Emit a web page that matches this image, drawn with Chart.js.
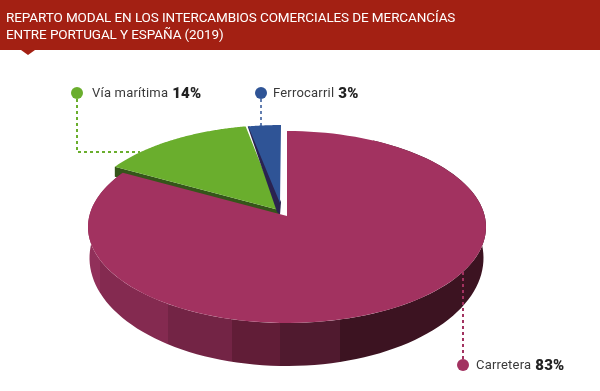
<!DOCTYPE html>
<html><head><meta charset="utf-8">
<style>html,body{margin:0;padding:0;background:#fff}canvas{display:block}</style>
<script src="https://cdn.jsdelivr.net/npm/chart.js@4"></script></head>
<body><canvas id="c" width="600" height="391"></canvas>
<script>
const titleLines = ['REPARTO MODAL EN LOS INTERCAMBIOS COMERCIALES DE MERCANCÍAS', 'ENTRE PORTUGAL Y ESPAÑA (2019)'];
const categories = ['Carretera', 'Vía marítima', 'Ferrocarril'];
const shares = [83, 14, 3];
const colors = ['#a23260', '#6aae2d', '#2f5496'];
const chordColors = ['#4a1a2e', '#35551a', '#2a2350'];

const PERSP = 0.1146;
const top3d = {cx: 287, cy: 216, a: 197.7, b: 94.7};
const bot3d = {cx: 286.5, cy: 245.6, a: 195.7, b: 106.6};
const shift = [[0, 0], [-8, -6], [-6, -6]];
const wallBands = [[80, 100, '#91305a'], [100, 168, '#842a50'], [168, 232, '#732445'], [232, 280, '#611d37'], [280, 340, '#501a2f'], [340, 500, '#3c1321']];
const labelPos = [
  {dot: [463, 365], tx: 476, line: [[463, 272], [463, 365]]},
  {dot: [77, 93], tx: 92, line: [[77, 93], [77, 152], [140, 152]]},
  {dot: [261, 93], tx: 273, line: [[261, 93], [261, 126]]}
];

function proj(t, ang, sh) {
  const th = ang + Math.PI / 2, u = Math.sin(th), v = -Math.cos(th), w = 1 - PERSP * v;
  return [t.cx + t.a * u / w + sh[0], t.cy + t.b * v / w + sh[1]];
}
function arcPts(t, s, e, sh) {
  const pts = [], n = 120;
  for (let i = 0; i <= n; i++) pts.push(proj(t, s + (e - s) * i / n, sh));
  return pts;
}
function poly(ctx, pts, fill) {
  ctx.beginPath();
  pts.forEach((p, i) => i ? ctx.lineTo(p[0], p[1]) : ctx.moveTo(p[0], p[1]));
  ctx.closePath(); ctx.fillStyle = fill; ctx.fill();
}

const pie3d = {
  id: 'pie3d',
  beforeDatasetsDraw(chart) {
    const ctx = chart.ctx, arcs = chart.getDatasetMeta(0).data;
    ctx.save();
    // banner
    ctx.fillStyle = '#a32013';
    ctx.fillRect(0, 0, 600, 50);
    ctx.beginPath(); ctx.moveTo(21, 50); ctx.lineTo(35, 50); ctx.lineTo(28, 55); ctx.closePath(); ctx.fill();
    ctx.fillStyle = '#fff'; ctx.font = '400 13.5px Roboto'; ctx.textBaseline = 'alphabetic';
    ctx.letterSpacing = '-0.1px';
    titleLines.forEach((l, i) => ctx.fillText(l, 6, 22 + i * 17));
    ctx.letterSpacing = '0px';
    // leader lines behind the pie
    [1, 2].forEach(i => leader(ctx, i));
    // green and blue slices
    [1, 2].forEach(i => {
      const a = arcs[i], sh = shift[i];
      const apex = [top3d.cx + sh[0], top3d.cy + sh[1]];
      const p0 = proj(top3d, a.startAngle, sh);
      if (i === 1) {
        poly(ctx, [p0, apex, [apex[0], apex[1] + 10], [p0[0], p0[1] + 10]], chordColors[i]);
        poly(ctx, [apex, p0].concat(arcPts(top3d, a.startAngle, a.endAngle, sh).slice(1)), colors[i]);
      } else {
        poly(ctx, [p0, [apex[0] - 4, apex[1] + 2], [apex[0] - 1, apex[1] + 5], [apex[0], apex[1] - 8], [p0[0] + 2, p0[1]]], chordColors[i]);
        poly(ctx, [[apex[0] - 1, apex[1] - 7], [p0[0] + 1, p0[1] + 1]].concat(arcPts(top3d, a.startAngle, a.endAngle, sh).slice(1)), colors[i]);
      }
    });
    // maroon wall
    const big = arcs[0];
    const wallStart = big.startAngle + 0.5;
    const t = arcPts(top3d, big.startAngle, big.endAngle, shift[0]);
    const tw = arcPts(top3d, wallStart, big.endAngle, shift[0]);
    const b = arcPts(bot3d, wallStart, big.endAngle, shift[0]).reverse();
    wallBands.forEach(w => {
      ctx.save();
      ctx.beginPath(); ctx.rect(w[0], 0, w[1] - w[0], 391); ctx.clip();
      poly(ctx, tw.concat(b), w[2]);
      ctx.restore();
    });
    // maroon surface
    poly(ctx, [[top3d.cx, top3d.cy]].concat(t), colors[0]);
    // labels
    leader(ctx, 0);
    arcs.forEach((a, i) => {
      const L = labelPos[i];
      ctx.beginPath(); ctx.arc(L.dot[0], L.dot[1], 6, 0, Math.PI * 2); ctx.fillStyle = colors[i]; ctx.fill();
      const y = L.dot[1] + 4;
      ctx.fillStyle = '#3a3a3a'; ctx.font = '400 13px Roboto';
      ctx.letterSpacing = '0.2px';
      const name = chart.data.labels[i];
      ctx.fillText(name, L.tx, y);
      const w = ctx.measureText(name).width;
      ctx.fillStyle = '#222'; ctx.font = '900 15px Roboto';
      ctx.fillText(chart.data.datasets[0].data[i] + '%', L.tx + w + 4, y + 0.5);
      ctx.letterSpacing = '0px';
    });
    ctx.restore();
    return false;
  }
};
function leader(ctx, i) {
  const pts = labelPos[i].line;
  ctx.save();
  ctx.setLineDash([3, 3]);
  ctx.lineWidth = i === 2 ? 1.5 : 2; ctx.strokeStyle = colors[i];
  ctx.beginPath();
  pts.forEach((p, k) => k ? ctx.lineTo(p[0], p[1]) : ctx.moveTo(p[0], p[1]));
  ctx.stroke(); ctx.restore();
}

new Chart(document.getElementById('c'), {
  type: 'pie',
  data: {labels: categories, datasets: [{data: shares, backgroundColor: colors, borderWidth: 0}]},
  options: {
    responsive: false, animation: false,
    plugins: {legend: {display: false}, tooltip: {enabled: false}}
  },
  plugins: [pie3d]
});
</script></body></html>
